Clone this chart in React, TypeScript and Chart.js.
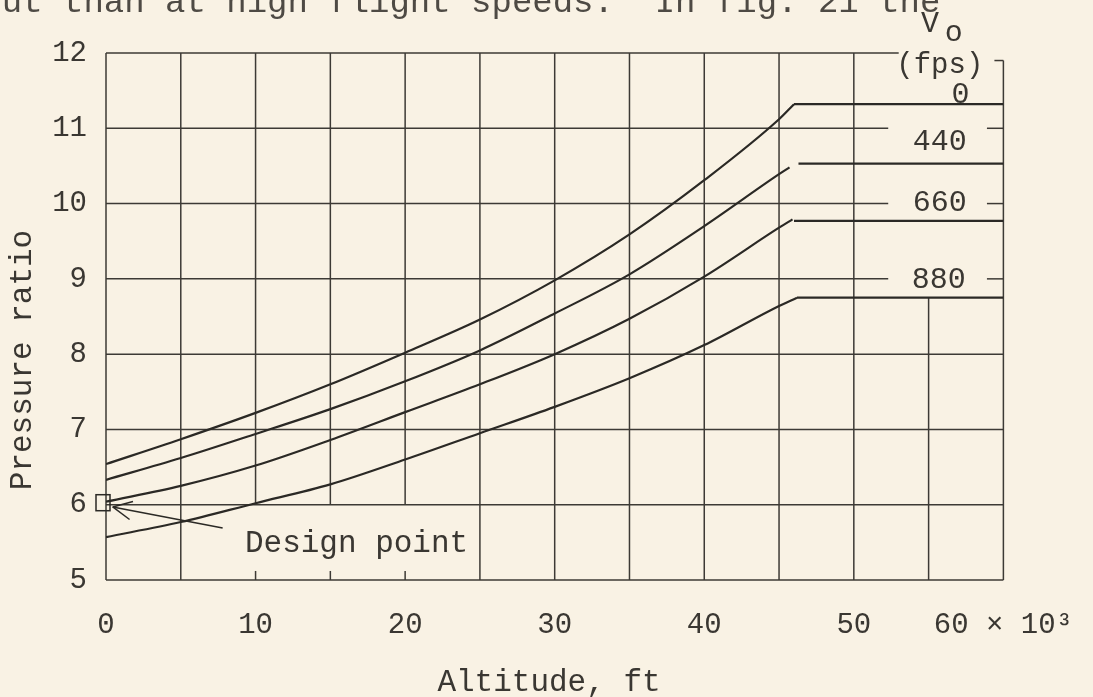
import React, { useEffect, useRef } from "react";
import { Chart, registerables } from "chart.js";

Chart.register(...registerables);

// ---------- data ----------
// altitude, thousands of ft, at which the rising curves were read
const altitudeCurve = [0, 5, 10, 15, 20, 25, 30, 35, 40, 45];
// pressure ratio for each flight speed V0 (fps)
const ratioV0 = [6.54, 6.87, 7.22, 7.6, 8.02, 8.46, 8.98, 9.59, 10.31, 11.12];
const ratioV440 = [6.33, 6.62, 6.94, 7.27, 7.64, 8.05, 8.54, 9.06, 9.7, 10.39];
const ratioV660 = [6.04, 6.25, 6.52, 6.86, 7.23, 7.6, 8.0, 8.47, 9.03, 9.68];
const ratioV880 = [5.57, 5.77, 6.02, 6.27, 6.6, 6.95, 7.3, 7.68, 8.12, 8.64];
// where the rising curves end
const curveEndAltitude = [46, 45.7, 45.9, 46.2];
const curveEndRatio = [11.32, 10.48, 9.79, 8.75];
// constant-ratio plateaus above the break altitude
const plateauStartAltitude = [46, 46.3, 46, 46.2];
const plateauEndAltitude = 60;
const plateauRatio = [11.32, 10.53, 9.77, 8.75];
const speedLabels = ["0", "440", "660", "880"];
// axes
const xTickValues = [0, 10, 20, 30, 40, 50, 60];
const yTickValues = [5, 6, 7, 8, 9, 10, 11, 12];
const xGridValues = [0, 5, 10, 15, 20, 25, 30, 35, 40, 45, 50, 55, 60];
const designPointAltitude = 0;
const designPointRatio = 6.0;

// ---------- styles ----------
const BG = "#f9f2e4";
const INK = "#2b2925";
const GRID = "#3d3a35";
const TEXT = "#3a3732";
const MONO = "'Liberation Mono', 'Courier New', monospace";

const ratioSeries = [ratioV0, ratioV440, ratioV660, ratioV880];

const curveDatasets = ratioSeries.map((r, k) => ({
  label: `V0 = ${speedLabels[k]} fps`,
  data: altitudeCurve
    .map((a, i) => ({ x: a, y: r[i] }))
    .concat([{ x: curveEndAltitude[k], y: curveEndRatio[k] }]),
  borderColor: INK,
  borderWidth: 2.2,
  pointRadius: 0,
  fill: false,
  cubicInterpolationMode: "monotone" as const,
}));

const plateauDatasets = plateauRatio.map((p, k) => ({
  label: `V0 = ${speedLabels[k]} fps (plateau)`,
  data: [
    { x: plateauStartAltitude[k], y: p },
    { x: plateauEndAltitude, y: p },
  ],
  borderColor: INK,
  borderWidth: 2.2,
  pointRadius: 0,
  fill: false,
  tension: 0,
}));

const gridPlugin = {
  id: "paperGrid",
  beforeDatasetsDraw(chart: any) {
    const { ctx } = chart;
    const xs = chart.scales.x;
    const ys = chart.scales.y;
    const X = (v: number) => xs.getPixelForValue(v);
    const Y = (v: number) => ys.getPixelForValue(v);
    const seg = (x1: number, y1: number, x2: number, y2: number) => {
      ctx.beginPath();
      ctx.moveTo(X(x1), Y(y1));
      ctx.lineTo(X(x2), Y(y2));
      ctx.stroke();
    };
    ctx.save();
    ctx.strokeStyle = GRID;
    ctx.lineWidth = 1.5;
    for (const v of yTickValues) {
      if (v === 12) seg(0, v, 53, v);
      else if (v === 11 || v === 10 || v === 9) {
        seg(0, v, 52.3, v);
        seg(58.9, v, 60, v);
      } else seg(0, v, 60, v);
    }
    for (const u of xGridValues) {
      if (u === 10 || u === 15 || u === 20) {
        seg(u, 6, u, 12);
        seg(u, 5, u, 5.12);
      } else if (u === 55) seg(u, 5, u, 8.75);
      else if (u === 60) {
        seg(u, 5, u, 11.9);
        seg(59.4, 11.9, 60, 11.9);
      } else seg(u, 5, u, 12);
    }
    ctx.restore();
  },
};

const annotationPlugin = {
  id: "paperText",
  afterDraw(chart: any) {
    const { ctx } = chart;
    const xs = chart.scales.x;
    const ys = chart.scales.y;
    const X = (v: number) => xs.getPixelForValue(v);
    const Y = (v: number) => ys.getPixelForValue(v);
    ctx.save();
    ctx.strokeStyle = INK;

    // cut-off typed text at top of page
    ctx.font = `34px ${MONO}`;
    ctx.fillStyle = "#4e4a44";
    ctx.textAlign = "left";
    ctx.textBaseline = "alphabetic";
    ctx.fillText("rout than at high flight speeds.  In fig. 21 the", -39, 12);

    ctx.fillStyle = TEXT;
    ctx.textBaseline = "middle";

    // axis titles
    ctx.font = `31px ${MONO}`;
    ctx.textAlign = "center";
    ctx.fillText("Altitude, ft", 549, 683);
    ctx.save();
    ctx.translate(23, 360);
    ctx.rotate(-Math.PI / 2);
    ctx.fillText("Pressure ratio", 0, 0);
    ctx.restore();

    // speed labels at right
    ctx.font = `30px ${MONO}`;
    ctx.fillText("V", X(55.09), Y(12.38));
    ctx.fillText("o", X(56.68), Y(12.26));
    ctx.font = `29px ${MONO}`;
    ctx.fillText("(fps)", X(55.75), Y(11.84));
    ctx.font = `30px ${MONO}`;
    const labelPos = [
      [57.14, 11.44],
      [55.75, 10.82],
      [55.75, 10.01],
      [55.68, 8.98],
    ];
    speedLabels.forEach((t, k) => {
      ctx.fillText(t, X(labelPos[k][0]), Y(labelPos[k][1]));
    });

    // design point
    ctx.font = `31px ${MONO}`;
    ctx.textAlign = "left";
    ctx.fillText("Design point", X(9.29), Y(5.48));

    const px = X(designPointAltitude);
    const py = Y(designPointRatio);
    ctx.lineWidth = 1.5;
    ctx.strokeRect(px - 10, py - 10, 14, 16);

    // arrow
    const tx = X(7.8), ty = Y(5.69);
    const hx = X(0.45), hy = Y(5.97);
    ctx.beginPath();
    ctx.moveTo(tx, ty);
    ctx.lineTo(hx, hy);
    ctx.stroke();
    const ang = Math.atan2(ty - hy, tx - hx);
    for (const d of [-0.45, 0.45]) {
      ctx.beginPath();
      ctx.moveTo(hx, hy);
      ctx.lineTo(hx + 21 * Math.cos(ang + d), hy + 21 * Math.sin(ang + d));
      ctx.stroke();
    }
    ctx.restore();
  },
};

export default function App() {
  const ref = useRef<HTMLCanvasElement>(null);

  useEffect(() => {
    const canvas = ref.current;
    if (!canvas) return;
    const chart = new Chart(canvas, {
      type: "line",
      data: { datasets: [...curveDatasets, ...plateauDatasets] as any },
      options: {
        responsive: false,
        animation: false,
        devicePixelRatio: 1,
        layout: { padding: { top: 53, right: 83, bottom: 0, left: 0 } },
        plugins: {
          legend: { display: false },
          tooltip: { enabled: false },
          title: { display: false },
        },
        scales: {
          x: {
            type: "linear",
            min: 0,
            max: 60,
            grid: { display: false },
            border: { display: false },
            afterBuildTicks: (s: any) => {
              s.ticks = xTickValues.map((v) => ({ value: v }));
            },
            afterFit: (s: any) => {
              s.height = 117;
            },
            ticks: {
              autoSkip: false,
              maxRotation: 0,
              minRotation: 0,
              padding: 20,
              color: TEXT,
              font: { family: MONO, size: 29 },
              callback: (v: any) => (Number(v) === 60 ? "60 × 10³" : String(v)),
            },
          },
          y: {
            type: "linear",
            min: 5,
            max: 12,
            grid: { display: false },
            border: { display: false },
            afterBuildTicks: (s: any) => {
              s.ticks = yTickValues.map((v) => ({ value: v }));
            },
            afterFit: (s: any) => {
              s.width = 106;
            },
            ticks: {
              padding: 11,
              color: TEXT,
              font: { family: MONO, size: 29 },
              callback: (v: any) => String(v),
            },
          },
        },
      },
      plugins: [gridPlugin, annotationPlugin],
    });
    return () => chart.destroy();
  }, []);

  return (
    <div
      style={{
        position: "fixed",
        left: 0,
        top: 0,
        width: 1093,
        height: 697,
        background: BG,
      }}
    >
      <canvas
        ref={ref}
        width={1093}
        height={697}
        style={{ display: "block", width: 1093, height: 697 }}
      />
    </div>
  );
}
